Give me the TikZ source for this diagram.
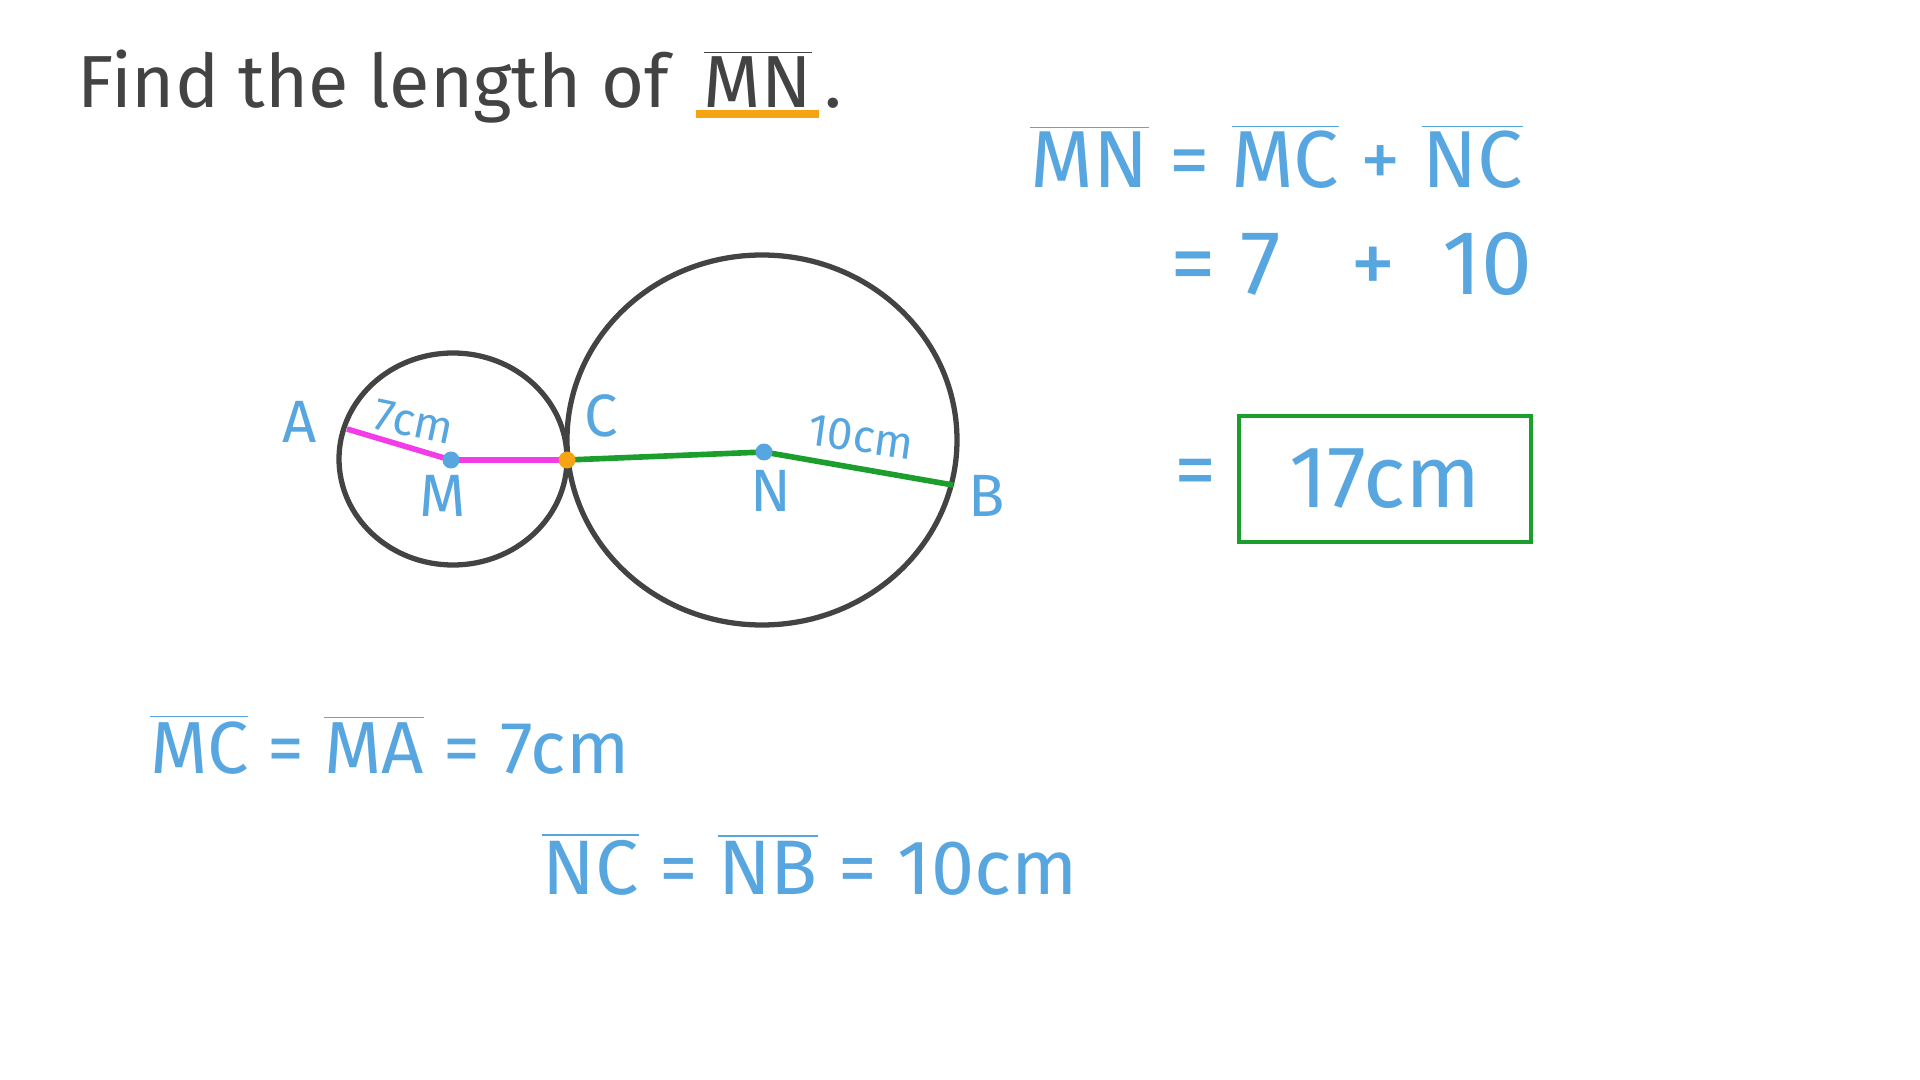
\documentclass[tikz,border=0pt]{standalone}
\usepackage{fontspec}
\setmainfont{Fira Sans}
\usetikzlibrary{positioning}
\definecolor{pen}{HTML}{434343}
\definecolor{bl}{HTML}{58A6E0}
\definecolor{mag}{HTML}{F23CE8}
\definecolor{grn}{HTML}{1C9E2C}
\definecolor{org}{HTML}{F5A414}
\newcommand{\ovl}[1]{$\overline{\hbox{#1}}$}

\begin{document}
\begin{tikzpicture}[node distance=2cm]

\tikzstyle{rim} = [draw=pen, line width=1.5pt]
\tikzstyle{dot} = [circle, inner sep=0pt, minimum size=0.17cm]
\tikzstyle{lbl} = [text=bl, font=\fontsize{17}{20}\selectfont]
\tikzstyle{eqn} = [text=bl, font=\fontsize{22}{26}\selectfont, anchor=base west]
\tikzstyle{ttl} = [anchor=base west, text=pen, font=\fontsize{21}{25}\selectfont]
\useasboundingbox (0,0) rectangle (19.2,-10.8);

\node (title) [ttl] at (0.65,-1.08) {Find the length of};
\node (titlemn) [ttl] at ([xshift=0.1cm]title.base east) {\ovl{MN}};
\node (titledot) [ttl] at ([xshift=-0.12cm]titlemn.base east) {.};
\draw[org, line width=2pt] ([xshift=0.05cm,yshift=-0.06cm]titlemn.base west) -- ([xshift=-0.05cm,yshift=-0.06cm]titlemn.base east);

\coordinate (A) at (3.47,-4.29);
\coordinate (M) at (4.51,-4.60);
\coordinate (C) at (5.67,-4.60);
\coordinate (N) at (7.64,-4.52);
\coordinate (B) at (9.53,-4.85);
\draw[rim] (4.53,-4.59) ellipse (1.14 and 1.06);
\draw[rim] (7.62,-4.40) ellipse (1.95 and 1.85);
\draw[mag, line width=1.6pt] (A) -- (M) -- (C);
\draw[grn, line width=1.6pt] (C) -- (N) -- (B);
\node (mdot) [dot, fill=bl] at (M) {};
\node (cdot) [dot, fill=org] at (C) {};
\node (ndot) [dot, fill=bl] at (N) {};

\node (la) [lbl] at (3.00,-4.22) {A};
\node (lm) [lbl] at (4.43,-4.96) {M};
\node (lc) [lbl] at (6.01,-4.16) {C};
\node (ln) [lbl] at (7.71,-4.91) {N};
\node (lb) [lbl] at (9.87,-4.96) {B};
\node (seven) [lbl, font=\fontsize{13}{15}\selectfont, rotate=-12] at (4.14,-4.22) {7cm};
\node (ten) [lbl, font=\fontsize{13}{15}\selectfont, rotate=-8] at (8.61,-4.37) {10cm};

\node (sum) [eqn, font=\fontsize{23}{27}\selectfont] at (10.18,-1.88) {\ovl{MN} = \ovl{MC} + \ovl{NC}};
\node (vals) [eqn, font=\fontsize{26}{30}\selectfont] at (11.58,-2.95) {=\ 7\enspace\ +\enspace 10};
\node (eqs) [eqn, font=\fontsize{24}{28}\selectfont] at (11.62,-4.98) {=};
\node (res) [draw=grn, line width=1.3pt, minimum width=2.92cm, minimum height=1.26cm, text=bl, font=\fontsize{25}{29}\selectfont] at (13.85,-4.79) {17cm};

\node (mc) [eqn, font=\fontsize{21}{25}\selectfont] at (1.38,-7.73) {\ovl{MC} = \ovl{MA} = 7cm};
\node (nc) [eqn, font=\fontsize{22}{26}\selectfont] at (5.30,-8.94) {\ovl{NC} = \ovl{NB} = 10cm};
\end{tikzpicture}
\end{document}
